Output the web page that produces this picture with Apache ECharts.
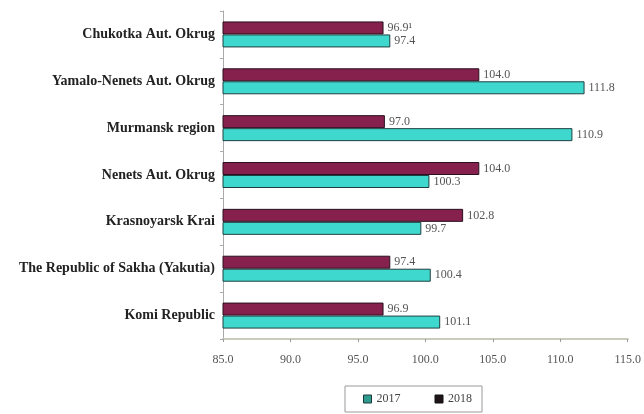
<!DOCTYPE html>
<html>
<head>
<meta charset="utf-8">
<script src="https://cdn.jsdelivr.net/npm/echarts@6/dist/echarts.min.js"></script>
<style>
  html, body { margin: 0; padding: 0; background: #ffffff; }
  #chart { width: 644px; height: 414px; }
</style>
</head>
<body>
<div id="chart"></div>
<script>
// Regions, listed top to bottom as they appear in the chart
const regions = [
  'Chukotka Aut. Okrug',
  'Yamalo-Nenets Aut. Okrug',
  'Murmansk region',
  'Nenets Aut. Okrug',
  'Krasnoyarsk Krai',
  'The Republic of Sakha (Yakutia)',
  'Komi Republic'
];
const values2017 = [97.4, 111.8, 110.9, 100.3, 99.7, 100.4, 101.1];
const values2018 = [96.9, 104.0, 97.0, 104.0, 102.8, 97.4, 96.9];
// Footnote marks attached to individual value labels
const notes2018 = ['¹', '', '', '', '', '', ''];
const xTicks = { min: 85, max: 115, step: 5 };

const serif = '"Liberation Serif", "DejaVu Serif", serif';
const chart = echarts.init(document.getElementById('chart'), null, { renderer: 'canvas' });

function valueLabel(notes) {
  return {
    show: true,
    position: 'right',
    distance: 4,
    fontFamily: serif,
    fontSize: 12,
    color: '#555',
    formatter: p => p.value.toFixed(1) + (notes ? notes[p.dataIndex] : '')
  };
}

chart.setOption({
  animation: false,
  backgroundColor: '#ffffff',
  grid: { left: 223, right: 14, top: 11, bottom: 75, containLabel: false },
  xAxis: {
    type: 'value',
    min: xTicks.min,
    max: xTicks.max,
    interval: xTicks.step,
    axisLine: { show: true, lineStyle: { color: '#c9cbbd', width: 2 } },
    axisTick: { show: true, length: 3, lineStyle: { color: '#999' } },
    splitLine: { show: false },
    axisLabel: {
      margin: 15,
      fontFamily: serif,
      fontSize: 12,
      color: '#555',
      formatter: v => v.toFixed(1)
    }
  },
  yAxis: {
    type: 'category',
    data: regions,
    inverse: true,
    axisLine: { show: true, lineStyle: { color: '#aaa', width: 1 } },
    axisTick: { show: true, length: 3, lineStyle: { color: '#aaa' } },
    axisLabel: {
      margin: 8,
      fontFamily: serif,
      fontSize: 14,
      fontWeight: 'bold',
      color: '#222'
    }
  },
  legend: {
    left: 345,
    top: 386,
    orient: 'horizontal',
    padding: [7, 10, 7, 18],
    itemGap: 34,
    itemWidth: 8,
    itemHeight: 8,
    borderColor: '#999',
    borderWidth: 1,
    textStyle: { fontFamily: serif, fontSize: 12, color: '#444' },
    data: [
      { name: '2017', icon: 'rect', itemStyle: { color: '#2f9a8e', borderColor: '#1d3a3a', borderWidth: 1 } },
      { name: '2018', icon: 'rect', itemStyle: { color: '#1e1418', borderColor: '#111', borderWidth: 1 } }
    ]
  },
  // With the inverted category axis the first series sits on top of each pair
  series: [
    {
      name: '2018',
      type: 'bar',
      data: values2018,
      barWidth: 13,
      barGap: '0%',
      itemStyle: { color: '#86204d', borderColor: '#2a1020', borderWidth: 1 },
      label: valueLabel(notes2018)
    },
    {
      name: '2017',
      type: 'bar',
      data: values2017,
      barWidth: 13,
      barGap: '0%',
      itemStyle: { color: '#3fd8ce', borderColor: '#1f4040', borderWidth: 1 },
      label: valueLabel(null)
    }
  ]
});
</script>
</body>
</html>
